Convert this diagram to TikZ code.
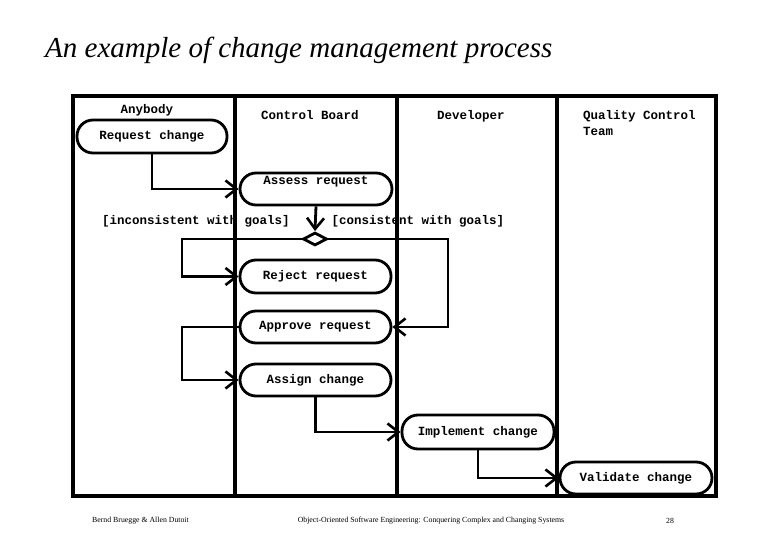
\documentclass[tikz,border=0pt]{standalone}
\usepackage{fontspec}
\setmainfont{Liberation Serif}
\newfontfamily\monof{Liberation Mono}
\usetikzlibrary{arrows.meta,shapes.geometric}
\tikzset{
  act/.style={draw, fill=white, line width=2.8pt, rounded corners=16pt,
    minimum width=151pt, minimum height=33pt, inner sep=2pt,
    font=\monof\bfseries\fontsize{12.5}{14}\selectfont},
  hdr/.style={font=\monof\bfseries\fontsize{12.5}{16}\selectfont, inner sep=0pt},
  guard/.style={font=\monof\bfseries\fontsize{12.5}{14}\selectfont, inner sep=0pt},
  flow/.style={line width=2.8pt, -{Straight Barb[length=11pt,width=17pt,line width=2.6pt]}},
  lane/.style={line width=3.2pt},
  foot/.style={font=\fontsize{7.8}{9}\selectfont, inner sep=0pt}
}
\begin{document}
\begin{tikzpicture}[x=1pt,y=-1pt]
\useasboundingbox (0,0) rectangle (780,540);
% title
\node[anchor=base west, inner sep=0pt, font=\itshape\fontsize{29}{34}\selectfont] (title) at (45,58) {An example of change management process};
% swimlanes
\draw[lane] (73,96) rectangle (716,496);
\draw[lane] (235,96) -- (235,496);
\draw[lane] (397,96) -- (397,496);
\draw[lane] (557,96) -- (557,496);
% headers
\node[hdr] (h1) at (147,110) {Anybody};
\node[hdr] (h2) at (310,115) {Control Board};
\node[hdr] (h3) at (471,116) {Developer};
\node[hdr, anchor=north west, align=left] (h4) at (583,110) {Quality Control\\Team};
% activities
\node[act, minimum width=150pt] (req) at (152,136.5) {Request change};
\node[act, minimum width=152pt, minimum height=32pt, text height=8pt, text depth=16pt] (assess) at (316,189) {Assess request};
\node[draw, diamond, fill=white, line width=2.8pt, minimum width=24pt, minimum height=13pt, inner sep=0pt] (dia) at (315,239) {};
\node[act] (reject) at (315.5,276.5) {Reject request};
\node[act, minimum height=32pt] (approve) at (315.5,327) {Approve request};
\node[act, minimum height=32pt] (assign) at (315.5,380) {Assign change};
\node[act, minimum width=152pt, minimum height=34pt] (impl) at (478,432) {Implement change};
\node[act, minimum width=152pt, minimum height=32pt] (valid) at (636,478) {Validate change};
% guards
\node[guard] (g1) at (196,221) {[inconsistent with goals]};
\node[guard] (g2) at (418,221) {[consistent with goals]};
% helper coordinates
\coordinate (lx) at (182,0);
\coordinate (rx) at (448,0);
% flows
\draw[flow] (req.south) |- (assess.west);
\draw[flow] (assess.south) -- (dia.north);
\draw[flow] (dia.west) -- (dia.west -| lx) |- (reject.west);
\draw[flow] (dia.east) -- (dia.east -| rx) |- (approve.east);
\draw[flow] (approve.west) -- (approve.west -| lx) |- (assign.west);
\draw[flow] (assign.south) |- (impl.west);
\draw[flow] (impl.south) |- (valid.west);
% footer
\node[foot, anchor=west] (f1) at (92,521) {Bernd Bruegge \& Allen Dutoit};
\node[foot] (f2) at (431,521) {Object-Oriented Software Engineering: Conquering Complex and Changing Systems};
\node[foot] (f3) at (670,521) {28};
\end{tikzpicture}
\end{document}
